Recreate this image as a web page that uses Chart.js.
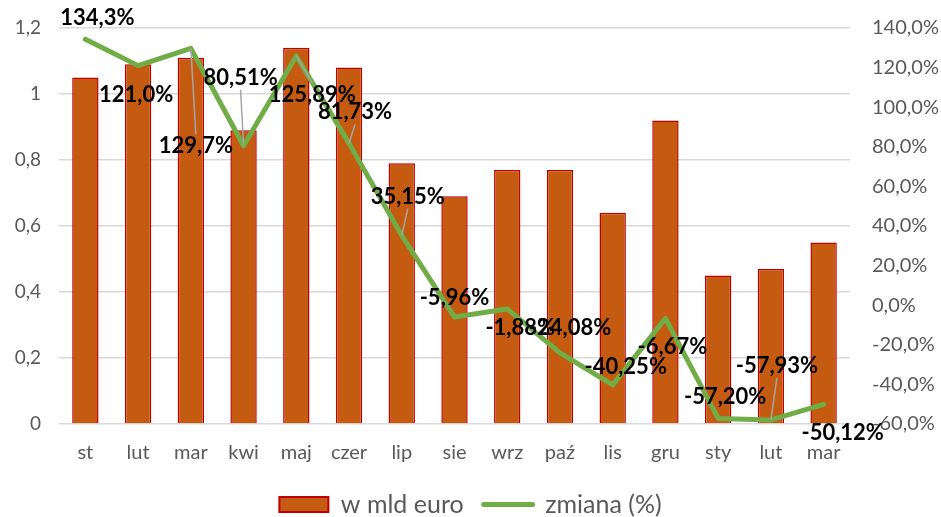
<!DOCTYPE html>
<html lang="pl">
<head>
    <meta charset="UTF-8">
    <meta name="viewport" content="width=device-width, initial-scale=1.0">
    <script src="https://cdn.jsdelivr.net/npm/chart.js"></script>
    <style>
        html, body {
            margin: 0;
            padding: 0;
            background: #ffffff;
        }
        .wrap {
            width: 941px;
            height: 517px;
        }
    </style>
</head>
<body>
    <div class="wrap">
        <canvas id="comboChart" width="941" height="517"></canvas>
    </div>

    <script>
        // data
        const months = ['st', 'lut', 'mar', 'kwi', 'maj', 'czer', 'lip', 'sie', 'wrz', 'paź', 'lis', 'gru', 'sty', 'lut', 'mar'];
        const valueMld = [1.05, 1.09, 1.11, 0.89, 1.14, 1.08, 0.79, 0.69, 0.77, 0.77, 0.64, 0.92, 0.45, 0.47, 0.55];
        const changePct = [134.3, 121.0, 129.7, 80.51, 125.89, 81.73, 35.15, -5.96, -1.88, -24.08, -40.25, -6.67, -57.20, -57.93, -50.12];
        const changeLabels = ['134,3%', '121,0%', '129,7%', '80,51%', '125,89%', '81,73%', '35,15%', '-5,96%', '-1,88%', '-24,08%', '-40,25%', '-6,67%', '-57,20%', '-57,93%', '-50,12%'];

        // where each label sits relative to its point (px), and whether a leader line is drawn
        const labelOffsets = [[12, -21], [-2, 29], [5, 98], [-3, -68], [16, 39], [6, -31], [6, -39], [0, -19], [13, 19], [10, -25], [13, -18], [7, 28], [7, -22], [6, -54], [19, 28]];
        const hasLeader = [false, false, true, true, true, true, true, false, false, false, false, false, false, true, false];

        const fontFamily = 'Lato, Carlito, Calibri, sans-serif';
        const tickColor = '#595959';

        // draws the percentage labels (and grey leader lines) for the line series
        const lineLabels = {
            id: 'lineLabels',
            afterDatasetsDraw(chart) {
                const meta = chart.getDatasetMeta(1);
                const ctx = chart.ctx;
                ctx.save();
                ctx.font = 'bold 22px ' + fontFamily;
                ctx.textAlign = 'center';
                ctx.textBaseline = 'middle';
                meta.data.forEach(function (pt, i) {
                    const lx = pt.x + labelOffsets[i][0];
                    const ly = pt.y + labelOffsets[i][1];
                    if (hasLeader[i]) {
                        const edge = labelOffsets[i][1] > 0 ? ly - 12 : ly + 12;
                        ctx.strokeStyle = '#A6A6A6';
                        ctx.lineWidth = 1.5;
                        ctx.beginPath();
                        ctx.moveTo(lx, edge);
                        ctx.lineTo(pt.x, pt.y);
                        ctx.stroke();
                    }
                    ctx.fillStyle = '#000000';
                    ctx.fillText(changeLabels[i], lx, ly);
                });
                ctx.restore();
            }
        };

        // y axes: fixed width, and no extra top/bottom padding from the tick labels
        function fixWidth(w) {
            return function (axis) {
                axis.width = w;
                axis.paddingTop = 0;
                axis.paddingBottom = 0;
            };
        }

        const ctx = document.getElementById('comboChart').getContext('2d');

        new Chart(ctx, {
            type: 'bar',
            data: {
                labels: months,
                datasets: [{
                    type: 'bar',
                    label: 'w mld euro',
                    data: valueMld,
                    yAxisID: 'y',
                    backgroundColor: '#C55A11',
                    borderColor: '#C00000',
                    borderWidth: 1.5,
                    barPercentage: 0.5,
                    categoryPercentage: 1,
                    order: 1
                }, {
                    type: 'line',
                    label: 'zmiana (%)',
                    data: changePct,
                    yAxisID: 'y1',
                    borderColor: '#70AD47',
                    backgroundColor: '#70AD47',
                    borderWidth: 5,
                    borderCapStyle: 'round',
                    borderJoinStyle: 'round',
                    pointRadius: 0,
                    tension: 0,
                    order: 0
                }]
            },
            options: {
                responsive: false,
                animation: false,
                layout: {
                    padding: { top: 28, bottom: -10, left: 0, right: 0 }
                },
                plugins: {
                    tooltip: { enabled: false },
                    legend: {
                        position: 'bottom',
                        labels: {
                            usePointStyle: true,
                            pointStyleWidth: 49,
                            boxHeight: 15,
                            padding: 20,
                            color: tickColor,
                            font: { family: fontFamily, size: 25 },
                            generateLabels: function (chart) {
                                return [{
                                    text: 'w mld euro',
                                    pointStyle: 'rect',
                                    fillStyle: '#C55A11',
                                    strokeStyle: '#C00000',
                                    lineWidth: 2,
                                    fontColor: tickColor,
                                    datasetIndex: 0
                                }, {
                                    text: 'zmiana (%)',
                                    pointStyle: 'line',
                                    fillStyle: '#70AD47',
                                    strokeStyle: '#70AD47',
                                    lineWidth: 5,
                                    lineCap: 'round',
                                    fontColor: tickColor,
                                    datasetIndex: 1
                                }];
                            }
                        }
                    }
                },
                scales: {
                    x: {
                        grid: { display: false, drawTicks: false },
                        border: { display: false },
                        ticks: {
                            color: tickColor,
                            padding: 17,
                            maxRotation: 0,
                            autoSkip: false,
                            font: { family: fontFamily, size: 20 }
                        },
                        afterFit: function (axis) { axis.height = 48; }
                    },
                    y: {
                        position: 'left',
                        min: 0,
                        max: 1.2,
                        grid: { color: '#D9D9D9', lineWidth: 1.5, drawTicks: false },
                        border: { display: false },
                        ticks: {
                            stepSize: 0.2,
                            color: tickColor,
                            padding: 18,
                            font: { family: fontFamily, size: 19 },
                            callback: function (v) {
                                return String(Math.round(v * 10) / 10).replace('.', ',');
                            }
                        },
                        afterFit: fixWidth(59)
                    },
                    y1: {
                        position: 'right',
                        min: -60,
                        max: 140,
                        grid: { display: false, drawTicks: false },
                        border: { display: false },
                        ticks: {
                            stepSize: 20,
                            color: tickColor,
                            padding: 22,
                            font: { family: fontFamily, size: 20 },
                            callback: function (v) {
                                return v.toFixed(1).replace('.', ',') + '%';
                            }
                        },
                        afterFit: fixWidth(91)
                    }
                }
            },
            plugins: [lineLabels]
        });
    </script>
</body>
</html>
